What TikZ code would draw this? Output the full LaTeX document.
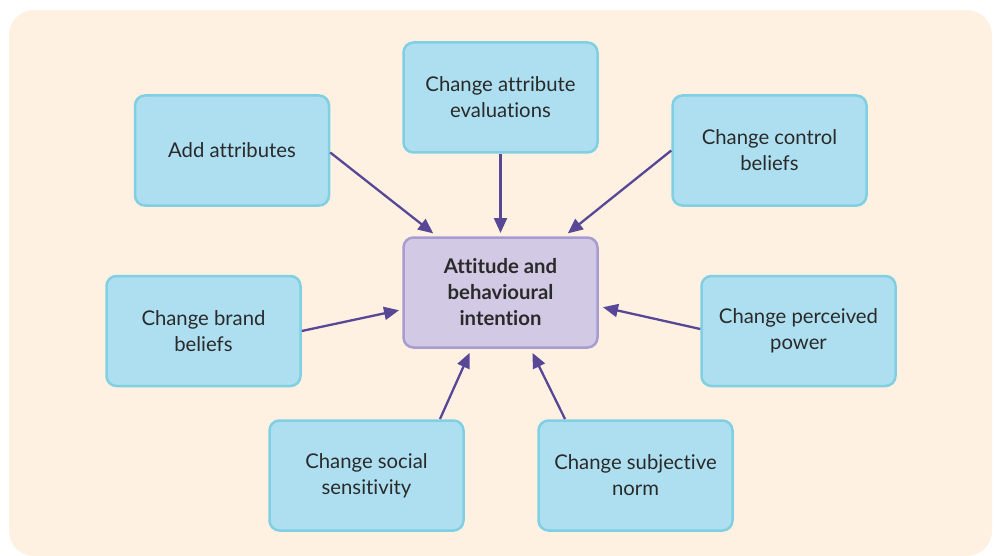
\documentclass[tikz,border=0pt]{standalone}
\usepackage{fontspec}
\setmainfont[Ligatures=NoCommon]{Lato}
\usetikzlibrary{arrows.meta}
\definecolor{bgc}{HTML}{FEF1E2}
\definecolor{boxfill}{HTML}{ADDFF0}
\definecolor{boxline}{HTML}{80CFE2}
\definecolor{cfill}{HTML}{D2C9E4}
\definecolor{cline}{HTML}{A69CD0}
\definecolor{arr}{HTML}{574796}
\definecolor{txt}{HTML}{2A2A2A}
\begin{document}
\begin{tikzpicture}[x=1pt,y=-1pt,
  outer/.style={draw=boxline,fill=boxfill,line width=2.5pt,rounded corners=10pt,
    minimum width=194pt,minimum height=110pt,inner sep=0pt,align=center,
    text=txt,font=\fontsize{20.3}{26}\selectfont},
  core/.style={outer,draw=cline,fill=cfill,font=\fontsize{20.3}{26}\selectfont\bfseries},
  link/.style={draw=arr,line width=2.3pt,-{Triangle[length=15pt,width=13pt]},shorten >=1pt}]
\useasboundingbox (0,0) rectangle (995,556);
\fill[bgc,rounded corners=25pt] (9,10) rectangle (992,556);
\node[core] (c) at (500.5,292.5) {Attitude and\\behavioural\\intention};
\node[outer] (a1) at (232,150.5) {Add attributes};
\node[outer] (a2) at (500.5,97.5) {Change attribute\\evaluations};
\node[outer] (a3) at (769.5,150.5) {Change control\\beliefs};
\node[outer] (a4) at (203.5,331) {Change brand\\beliefs};
\node[outer] (a5) at (798.5,331) {Change perceived\\power};
\node[outer] (a6) at (366.5,475.5) {Change social\\sensitivity};
\node[outer] (a7) at (635.5,475.5) {Change subjective\\norm};
\coordinate (t1) at (434,234);
\coordinate (t2) at (500.5,234);
\coordinate (t3) at (567,234);
\coordinate (t4) at (400,310);
\coordinate (t5) at (602,307);
\coordinate (t6) at (470,352);
\coordinate (t7) at (532,352);
\coordinate (s6) at (440,419);
\coordinate (s7) at (565,419);
\draw[link] (a1.east) ++(0,2) -- (t1);
\draw[link] (a2.south) -- (t2);
\draw[link] (a3.west) -- (t3);
\draw[link] (a4.east) -- (t4);
\draw[link] (a5.west) ++(0,-2) -- (t5);
\draw[link] (s6) -- (t6);
\draw[link] (s7) -- (t7);
\end{tikzpicture}
\end{document}
